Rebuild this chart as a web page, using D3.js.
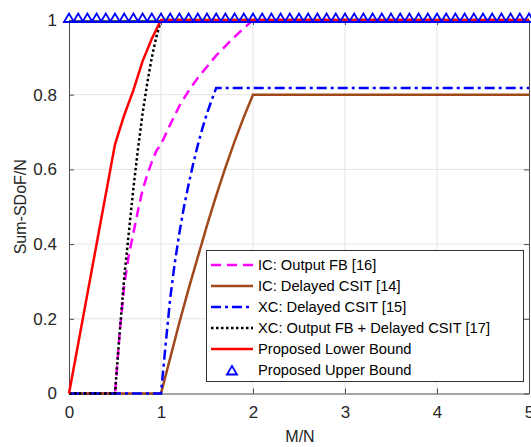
<!DOCTYPE html>
<html>
<head>
<meta charset="utf-8">
<script src="https://cdn.jsdelivr.net/npm/d3@7"></script>
<style>
  body { margin: 0; background: #fff; }
  svg { font-family: "Liberation Sans", Arial, Helvetica, sans-serif; }
</style>
</head>
<body>
<svg width="531" height="447"></svg>
<script>
// curves (x = M/N, y = Sum-SDoF/N)
var icOutX = [0, 0.5, 0.55, 0.6, 0.65, 0.7, 0.75, 0.8, 0.85, 0.9, 0.95, 1, 1.1, 1.2, 1.3, 1.4, 1.5, 1.6, 1.7, 1.8, 1.9, 2, 5];
var icOutY = [0, 0, 0.16, 0.29, 0.37, 0.43, 0.49, 0.545, 0.585, 0.62, 0.65, 0.667, 0.72, 0.77, 0.81, 0.845, 0.875, 0.905, 0.93, 0.955, 0.978, 1, 1];

var icDelX = [0, 1, 1.1, 1.2, 1.3, 1.4, 1.5, 1.6, 1.7, 1.8, 1.9, 2, 5];
var icDelY = [0, 0, 0.095, 0.19, 0.28, 0.365, 0.45, 0.53, 0.605, 0.675, 0.74, 0.8, 0.8];

var xcDelX = [0, 1, 1.05, 1.1, 1.15, 1.2, 1.25, 1.3, 1.35, 1.4, 1.45, 1.5, 1.55, 1.6, 5];
var xcDelY = [0, 0, 0.13, 0.255, 0.35, 0.43, 0.5, 0.56, 0.615, 0.665, 0.71, 0.75, 0.785, 0.818, 0.818];

var xcOutX = [0, 0.5, 0.55, 0.6, 0.65, 0.7, 0.75, 0.8, 0.85, 0.9, 0.95, 1, 5];
var xcOutY = [0, 0, 0.16, 0.31, 0.43, 0.55, 0.655, 0.75, 0.83, 0.9, 0.955, 1, 1];

var lowX = [0, 0.5, 0.6, 0.7, 0.8, 0.9, 1, 5];
var lowY = [0, 0.667, 0.745, 0.812, 0.89, 0.95, 1, 1];

var upX = [0, 0.1, 0.2, 0.3, 0.4, 0.5, 0.6, 0.7, 0.8, 0.9, 1, 1.1, 1.2, 1.3, 1.4, 1.5, 1.6, 1.7, 1.8, 1.9, 2,
  2.1, 2.2, 2.3, 2.4, 2.5, 2.6, 2.7, 2.8, 2.9, 3, 3.1, 3.2, 3.3, 3.4, 3.5, 3.6, 3.7, 3.8, 3.9, 4,
  4.1, 4.2, 4.3, 4.4, 4.5, 4.6, 4.7, 4.8, 4.9, 5];
var upY = 1; // every marker sits on 1

var xTicks = [0, 1, 2, 3, 4, 5];
var yTicks = [0, 0.2, 0.4, 0.6, 0.8, 1];

var legendNames = ["IC: Output FB [16]", "IC: Delayed CSIT [14]", "XC: Delayed CSIT [15]",
  "XC: Output FB + Delayed CSIT [17]", "Proposed Lower Bound", "Proposed Upper Bound"];

const margin = { top: 20, right: 2, bottom: 53.5, left: 69 },
  width = 531 - margin.left - margin.right,
  height = 447 - margin.top - margin.bottom;

const svg = d3.select("svg");
const g = svg.append("g")
  .attr("transform", "translate(" + margin.left + "," + margin.top + ")");

const x = d3.scaleLinear().domain([0, 5]).range([0, width]);
const y = d3.scaleLinear().domain([0, 1]).range([height, 0]);

// grid
g.append("g").selectAll("line").data(xTicks.slice(1, -1)).enter().append("line")
  .attr("x1", d => x(d)).attr("x2", d => x(d)).attr("y1", 0).attr("y2", height)
  .attr("stroke", "#e3e3e3").attr("stroke-width", 1);
g.append("g").selectAll("line").data(yTicks.slice(1, -1)).enter().append("line")
  .attr("y1", d => y(d)).attr("y2", d => y(d)).attr("x1", 0).attr("x2", width)
  .attr("stroke", "#e3e3e3").attr("stroke-width", 1);

// axes (ticks inward, box on)
function styleAxis(sel) {
  sel.select(".domain").attr("stroke", "#4d4d4d");
  sel.selectAll(".tick line").attr("stroke", "#4d4d4d");
  sel.selectAll(".tick text").attr("fill", "#262626").style("font-size", "17px")
    .style("font-family", "'Liberation Sans', Arial, sans-serif");
}
g.append("g").attr("transform", "translate(0," + height + ")")
  .call(d3.axisBottom(x).tickValues(xTicks).tickFormat(d3.format("d")).tickSizeInner(-5).tickSizeOuter(0).tickPadding(12))
  .call(styleAxis);
g.append("g")
  .call(d3.axisLeft(y).tickValues(yTicks).tickFormat(d => d === 0 || d === 1 ? d : d3.format(".1f")(d)).tickSizeInner(-5).tickSizeOuter(0).tickPadding(12))
  .call(styleAxis);
g.append("g").attr("transform", "translate(" + width + ",0)")
  .call(d3.axisRight(y).tickValues(yTicks).tickFormat("").tickSizeInner(-5).tickSizeOuter(0))
  .call(styleAxis);
g.append("g")
  .call(d3.axisTop(x).tickValues(xTicks).tickFormat("").tickSizeInner(-5).tickSizeOuter(0))
  .call(styleAxis);

// axis labels
svg.append("text").attr("x", margin.left + width / 2 + 1).attr("y", 442)
  .attr("text-anchor", "middle").style("font-size", "16px").attr("fill", "#262626").text("M/N");
svg.append("text").attr("transform", "translate(26," + (margin.top + height / 2) + ") rotate(-90)")
  .attr("text-anchor", "middle").style("font-size", "16px").attr("fill", "#262626").text("Sum-SDoF/N");

// series
var series = [
  { xs: icOutX, ys: icOutY, color: "#ff00ff", dash: "10,6" },
  { xs: icDelX, ys: icDelY, color: "#a0481a", dash: null },
  { xs: xcDelX, ys: xcDelY, color: "#0000ff", dash: "10,4,3,4" },
  { xs: xcOutX, ys: xcOutY, color: "#000000", dash: "2.5,2.5" },
  { xs: lowX, ys: lowY, color: "#ff0000", dash: null }
];

const line = d3.line().x(d => x(d[0])).y(d => y(d[1]));

series.forEach(function (s) {
  var pts = s.xs.map((v, i) => [v, s.ys[i]]);
  g.append("path").datum(pts)
    .attr("fill", "none").attr("stroke", s.color).attr("stroke-width", 2.5)
    .attr("stroke-dasharray", s.dash)
    .attr("d", line);
});

function tri(cx, cy) {
  // apex up, data point a little above the base (like the matlab marker)
  return "M" + (cx - 5) + "," + (cy + 2) + "L" + cx + "," + (cy - 6.5) + "L" + (cx + 5) + "," + (cy + 2) + "Z";
}
g.append("g").selectAll("path").data(upX).enter().append("path")
  .attr("d", d => tri(x(d), y(upY)))
  .attr("fill", "none").attr("stroke", "#0000ff").attr("stroke-width", 1.8)
  .attr("stroke-linejoin", "miter");

// legend
const lg = svg.append("g");
lg.append("rect").attr("x", 206.5).attr("y", 250.5).attr("width", 317).attr("height", 131)
  .attr("fill", "#fff").attr("stroke", "#333").attr("stroke-width", 1);
legendNames.forEach(function (name, i) {
  var cy = 265 + i * 21;
  if (i < 5) {
    var s = series[i];
    lg.append("line").attr("x1", 211).attr("x2", 253).attr("y1", cy).attr("y2", cy)
      .attr("stroke", s.color).attr("stroke-width", 2.5).attr("stroke-dasharray", s.dash);
  } else {
    lg.append("path").attr("d", tri(232, cy + 2.5))
      .attr("fill", "none").attr("stroke", "#0000ff").attr("stroke-width", 1.8);
  }
  lg.append("text").attr("x", 258).attr("y", cy + 5).style("font-size", "14.7px")
    .attr("fill", "#000").text(name);
});
</script>
</body>
</html>
